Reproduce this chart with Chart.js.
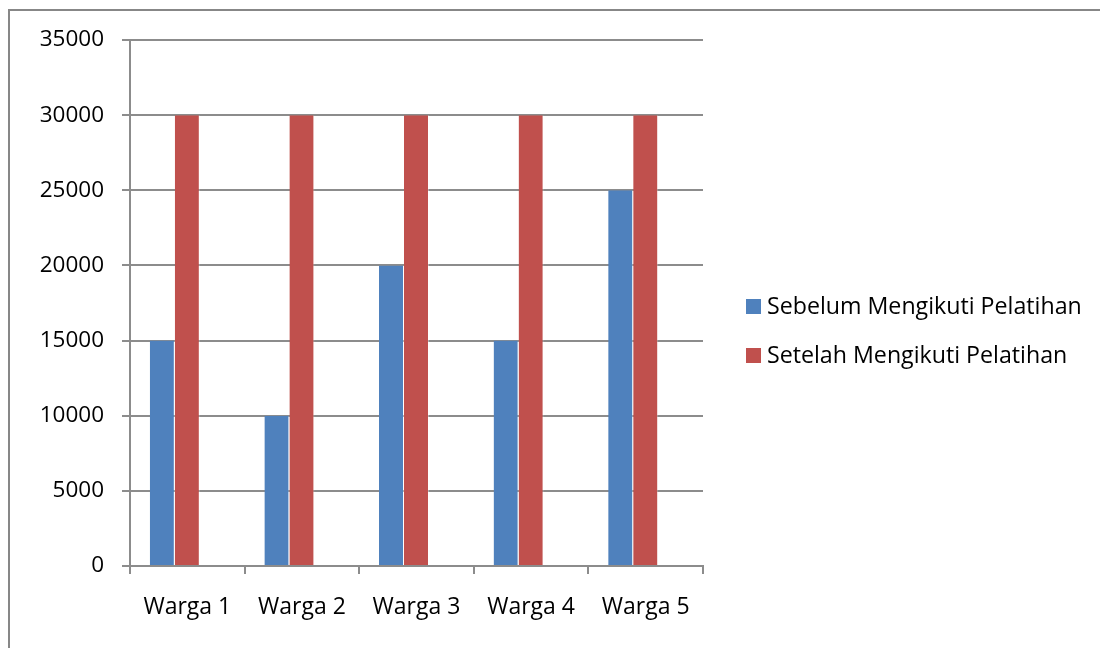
<!DOCTYPE html>
<html>
<head>
<meta charset="utf-8">
<title>Pendapatan Warga</title>
<script src="https://cdn.jsdelivr.net/npm/chart.js@4.4.1/dist/chart.umd.min.js"></script>
<style>
  html, body { margin: 0; padding: 0; background: #ffffff; }
  #wrap { width: 1100px; height: 648px; position: relative; }
</style>
</head>
<body>
<div id="wrap"><canvas id="chart" width="1100" height="648"></canvas></div>
<script>
// Data
const categories = ['Warga 1', 'Warga 2', 'Warga 3', 'Warga 4', 'Warga 5'];
const seriesNames = ['Sebelum Mengikuti Pelatihan', 'Setelah Mengikuti Pelatihan'];
const sebelum = [15000, 10000, 20000, 15000, 25000];
const setelah = [30000, 30000, 30000, 30000, 30000];
const emptySlot = [null, null, null, null, null];
const yTicks = [0, 5000, 10000, 15000, 20000, 25000, 30000, 35000];

const seriesColors = ['#4F81BD', '#C0504D'];
const FONT = '"Open Sans", Lato, sans-serif';
const GRID = '#8c8c8c';

// Outer frame around the whole chart
const framePlugin = {
  id: 'frame',
  beforeDraw(chart) {
    const ctx = chart.ctx;
    ctx.save();
    ctx.fillStyle = '#ffffff';
    ctx.fillRect(0, 0, chart.width, chart.height);
    ctx.strokeStyle = '#878787';
    ctx.lineWidth = 2;
    ctx.beginPath();
    ctx.moveTo(9, chart.height + 5);
    ctx.lineTo(9, 10);
    ctx.lineTo(chart.width + 5, 10);
    ctx.stroke();
    ctx.restore();
  }
};

// Legend on the right: small square swatch followed closely by the series name
const sideLegend = {
  id: 'sideLegend',
  afterDraw(chart) {
    const ctx = chart.ctx;
    const x0 = 746, box = 15, rowY = [306.5, 355.5];
    ctx.save();
    ctx.font = '23.2px ' + FONT;
    ctx.textBaseline = 'middle';
    ctx.textAlign = 'left';
    seriesNames.forEach((name, i) => {
      const ds = chart.data.datasets[i];
      ctx.fillStyle = ds.backgroundColor;
      ctx.fillRect(x0, rowY[i] - box / 2, box, box);
      ctx.fillStyle = '#000000';
      ctx.fillText(name, x0 + box + 6, rowY[i] + 1);
    });
    ctx.restore();
  }
};

new Chart(document.getElementById('chart'), {
  type: 'bar',
  data: {
    labels: categories,
    datasets: [
      { label: seriesNames[0], data: sebelum, backgroundColor: seriesColors[0],
        borderColor: 'rgba(255,255,255,0.35)', borderWidth: { right: 1 } },
      { label: seriesNames[1], data: setelah, backgroundColor: seriesColors[1],
        borderColor: 'rgba(255,255,255,0.35)', borderWidth: { right: 1 } },
      // empty third column slot, so each pair sits left of the category centre
      { label: '', data: emptySlot, backgroundColor: 'rgba(0,0,0,0)' }
    ]
  },
  options: {
    responsive: false,
    animation: false,
    devicePixelRatio: 1,
    layout: { padding: { top: 40, right: 397, left: 0, bottom: 0 } },
    datasets: { bar: { categoryPercentage: 0.6545, barPercentage: 1.0 } },
    plugins: {
      legend: { display: false },
      tooltip: { enabled: false },
      title: { display: false }
    },
    scales: {
      x: {
        offset: true,
        grid: {
          offset: true,
          drawOnChartArea: false,
          drawTicks: true,
          tickLength: 8,
          color: GRID,
          lineWidth: 2
        },
        border: { display: true, color: GRID, width: 2 },
        ticks: {
          color: '#000000',
          font: { family: FONT, size: 23 },
          padding: 20,
          maxRotation: 0
        },
        afterFit(scale) { scale.height = 82; }
      },
      y: {
        min: 0,
        max: 35000,
        afterBuildTicks(scale) { scale.ticks = yTicks.map(v => ({ value: v })); },
        grid: {
          color: GRID,
          lineWidth: 2,
          drawTicks: true,
          tickLength: 8
        },
        border: { display: true, color: GRID, width: 2 },
        ticks: {
          color: '#000000',
          font: { family: FONT, size: 22.5 },
          padding: 18,
          callback: v => String(v)
        },
        afterFit(scale) { scale.width = 130; }
      }
    }
  },
  plugins: [framePlugin, sideLegend]
});
</script>
</body>
</html>
